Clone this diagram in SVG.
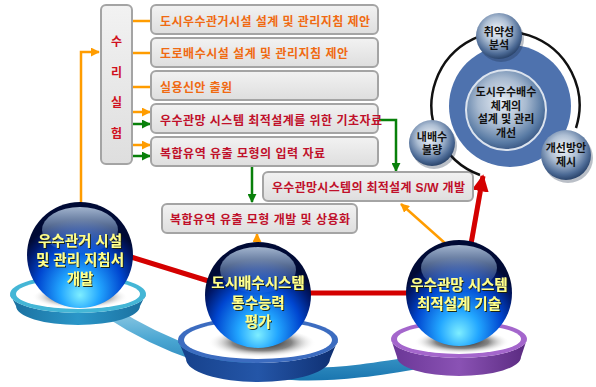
<svg xmlns="http://www.w3.org/2000/svg" width="596" height="387" viewBox="0 0 596 387">
  <defs>
    <style>
      .box { fill: url(#boxFill); stroke: #a4a4a4; stroke-width: 2; }
      .t { font-family: 'Liberation Sans', 'Noto Sans CJK KR', sans-serif; font-size: 12px; font-weight: bold; }
      .or { fill: #f06a12; }
      .rd { fill: #c0102a; }
      .ball-t { font-family: 'Liberation Sans', 'Noto Sans CJK KR', sans-serif; font-size: 14.5px; font-weight: bold; fill: #ffff8a; text-anchor: middle; filter: url(#txtShadow); }
      .orb-t { font-family: 'Liberation Sans', 'Noto Sans CJK KR', sans-serif; font-size: 11px; font-weight: bold; fill: #111; text-anchor: middle; }
      .ln-o { stroke: #ff9c00; stroke-width: 2.5; fill: none; }
      .ln-g { stroke: #08800a; stroke-width: 2.5; fill: none; }
      .ln-r { stroke: #d40000; stroke-width: 5; fill: none; }
    </style>
    <linearGradient id="boxFill" x1="0" y1="0" x2="0" y2="1">
      <stop offset="0" stop-color="#f2f2f2"/>
      <stop offset="1" stop-color="#dedede"/>
    </linearGradient>
    <marker id="arrO" viewBox="0 0 10 10" refX="9" refY="5" markerWidth="9" markerHeight="9" markerUnits="userSpaceOnUse" orient="auto">
      <path d="M0,0 L10,5 L0,10 z" fill="#ff9c00"/>
    </marker>
    <marker id="arrG" viewBox="0 0 10 10" refX="9" refY="5" markerWidth="9" markerHeight="9" markerUnits="userSpaceOnUse" orient="auto">
      <path d="M0,0 L10,5 L0,10 z" fill="#08800a"/>
    </marker>
    <marker id="arrR" viewBox="0 0 10 10" refX="9" refY="5" markerWidth="17" markerHeight="17" markerUnits="userSpaceOnUse" orient="auto">
      <path d="M0,0 L10,5 L0,10 z" fill="#d40000"/>
    </marker>
    <filter id="txtShadow" x="-10%" y="-20%" width="120%" height="150%">
      <feDropShadow dx="1" dy="1" stdDeviation="0.5" flood-color="#1a1a00" flood-opacity="0.9"/>
    </filter>
    <!-- glass ball -->
    <radialGradient id="ball" cx="50%" cy="78%" r="62%" fx="50%" fy="88%">
      <stop offset="0" stop-color="#7eeeff"/>
      <stop offset="0.3" stop-color="#22a6ff"/>
      <stop offset="0.65" stop-color="#0046d0"/>
      <stop offset="0.88" stop-color="#00186a"/>
      <stop offset="1" stop-color="#000a35"/>
    </radialGradient>
    <linearGradient id="hl" x1="0" y1="0" x2="0" y2="1">
      <stop offset="0" stop-color="#d8ecff" stop-opacity="0.75"/>
      <stop offset="1" stop-color="#8ec4ff" stop-opacity="0.05"/>
    </linearGradient>
    <!-- dish parts -->
    <radialGradient id="dishShadow" cx="50%" cy="45%" r="50%">
      <stop offset="0" stop-color="#000" stop-opacity="0.95"/>
      <stop offset="0.55" stop-color="#333" stop-opacity="0.6"/>
      <stop offset="1" stop-color="#fff" stop-opacity="0"/>
    </radialGradient>
    <linearGradient id="side1" x1="0" y1="0" x2="1" y2="0">
      <stop offset="0" stop-color="#1a6f9e"/>
      <stop offset="0.5" stop-color="#2a96c8"/>
      <stop offset="1" stop-color="#1a6f9e"/>
    </linearGradient>
    <linearGradient id="side2" x1="0" y1="0" x2="1" y2="0">
      <stop offset="0" stop-color="#16408a"/>
      <stop offset="0.5" stop-color="#2456a8"/>
      <stop offset="1" stop-color="#0e2e70"/>
    </linearGradient>
    <linearGradient id="side3" x1="0" y1="0" x2="1" y2="0">
      <stop offset="0" stop-color="#6a3696"/>
      <stop offset="0.5" stop-color="#8a52b4"/>
      <stop offset="1" stop-color="#5a2a80"/>
    </linearGradient>
    <linearGradient id="band" x1="0" y1="300" x2="0" y2="380" gradientUnits="userSpaceOnUse">
      <stop offset="0" stop-color="#a6d6ea"/>
      <stop offset="0.5" stop-color="#4aa6d2"/>
      <stop offset="1" stop-color="#1a76b0"/>
    </linearGradient>
    <!-- steel orbs -->
    <radialGradient id="orb" cx="45%" cy="38%" r="62%">
      <stop offset="0" stop-color="#f2f5f9"/>
      <stop offset="0.45" stop-color="#aebfd4"/>
      <stop offset="0.82" stop-color="#4d6b96"/>
      <stop offset="1" stop-color="#2b456c"/>
    </radialGradient>
    <radialGradient id="orbC" cx="45%" cy="40%" r="60%">
      <stop offset="0" stop-color="#e8eef5"/>
      <stop offset="0.5" stop-color="#a8bad0"/>
      <stop offset="0.85" stop-color="#587aa4"/>
      <stop offset="1" stop-color="#3c5a86"/>
    </radialGradient>
  </defs>

  <rect width="596" height="387" fill="#ffffff"/>

  <!-- track joining the three dishes -->
  <path d="M110,312 C160,345 230,372 300,374 C340,375 380,369 425,361" fill="none" stroke="url(#band)" stroke-width="13"/>

  <!-- connectors -->
  <g id="connectors">
    <!-- feed into the experiment column -->
    <polyline class="ln-o" points="81,203 81,52 99,52" marker-end="url(#arrO)"/>
    <line class="ln-o" x1="133" y1="21" x2="151" y2="21"/>
    <line class="ln-o" x1="133" y1="53" x2="151" y2="53"/>
    <line class="ln-o" x1="133" y1="87" x2="151" y2="87"/>
    <line class="ln-o" x1="133" y1="112" x2="150" y2="112" marker-end="url(#arrO)"/>
    <line class="ln-g" x1="133" y1="124" x2="150" y2="124" marker-end="url(#arrG)"/>
    <line class="ln-o" x1="133" y1="145" x2="150" y2="145" marker-end="url(#arrO)"/>
    <line class="ln-g" x1="133" y1="156" x2="150" y2="156" marker-end="url(#arrG)"/>
    <!-- data flows down to the development boxes -->
    <polyline class="ln-g" points="378,120 396,120 396,171" marker-end="url(#arrG)"/>
    <line class="ln-g" x1="252" y1="167" x2="252" y2="202" marker-end="url(#arrG)"/>
    <line class="ln-o" x1="257" y1="243" x2="257" y2="234" marker-end="url(#arrO)"/>
    <line class="ln-o" x1="446" y1="244" x2="401" y2="204" marker-end="url(#arrO)"/>
    <!-- links between the balls -->
    <line class="ln-r" x1="128" y1="256" x2="215" y2="283"/>
    <line class="ln-r" x1="305" y1="293" x2="412" y2="293"/>
    <line class="ln-r" stroke-width="5.5" x1="471" y1="244" x2="483" y2="176" marker-end="url(#arrR)"/>
  </g>

  <!-- experiment column -->
  <g id="col-experiment">
    <rect class="box" x="101" y="5" width="31" height="159" rx="5"/>
    <text class="t" fill="#d01020" text-anchor="middle" x="116.5" y="46">수</text>
    <text class="t" fill="#d01020" text-anchor="middle" x="116.5" y="77">리</text>
    <text class="t" fill="#d01020" text-anchor="middle" x="116.5" y="107">실</text>
    <text class="t" fill="#d01020" text-anchor="middle" x="116.5" y="138">험</text>
  </g>

  <g id="box-guide-pipe">
    <rect class="box" x="151" y="5" width="227" height="29" rx="5"/>
    <text class="t or" x="160" y="25.5" textLength="210" lengthAdjust="spacing">도시우수관거시설 설계 및 관리지침 제안</text>
  </g>
  <g id="box-guide-road">
    <rect class="box" x="151" y="38" width="227" height="29" rx="5"/>
    <text class="t or" x="160" y="58" textLength="188" lengthAdjust="spacing">도로배수시설 설계 및 관리지침 제안</text>
  </g>
  <g id="box-patent">
    <rect class="box" x="151" y="71" width="227" height="29" rx="5"/>
    <text class="t or" x="160" y="91.5" textLength="72" lengthAdjust="spacing">실용신안 출원</text>
  </g>
  <g id="box-basedata">
    <rect class="box" x="151" y="104" width="227" height="29" rx="5"/>
    <text class="t rd" x="160" y="124.5" textLength="222" lengthAdjust="spacing">우수관망 시스템 최적설계를 위한 기초자료</text>
  </g>
  <g id="box-inputdata">
    <rect class="box" x="151" y="137" width="227" height="29" rx="5"/>
    <text class="t rd" x="160" y="157.5" textLength="165" lengthAdjust="spacing">복합유역 유출 모형의 입력 자료</text>
  </g>
  <g id="box-sw">
    <rect class="box" x="263" y="172" width="210" height="29" rx="5"/>
    <text class="t rd" x="272" y="191.5" textLength="193" lengthAdjust="spacing">우수관망시스템의 최적설계 S/W 개발</text>
  </g>
  <g id="box-model">
    <rect class="box" x="162" y="204" width="195" height="29" rx="5"/>
    <text class="t rd" x="170" y="224" textLength="180" lengthAdjust="spacing">복합유역 유출 모형 개발 및 상용화</text>
  </g>

  <!-- ball 1 -->
  <g id="ball-guideline">
    <path d="M10,294 L16,306 A62 19 0 0 0 140,306 L146,294 A68 19 0 0 1 10,294 Z" fill="url(#side1)"/>
    <ellipse cx="78" cy="294" rx="68" ry="19" fill="#44b6d6"/>
    <ellipse cx="78" cy="294" rx="62" ry="15" fill="#ffffff"/>
    <ellipse cx="80" cy="298" rx="48" ry="12" fill="url(#dishShadow)"/>
    <circle cx="80" cy="255" r="53" fill="url(#ball)"/>
    <ellipse cx="80" cy="230" rx="38" ry="23" fill="url(#hl)"/>
    <text class="ball-t" x="80" y="246">우수관거 시설</text>
    <text class="ball-t" x="80" y="265">및 관리 지침서</text>
    <text class="ball-t" x="80" y="284">개발</text>
  </g>

  <!-- ball 2 -->
  <g id="ball-capacity">
    <path d="M178,340 L186,359 A72 23 0 0 0 330,359 L338,340 A80 23 0 0 1 178,340 Z" fill="url(#side2)"/>
    <ellipse cx="258" cy="340" rx="80" ry="23" fill="#3c6cc0"/>
    <ellipse cx="258" cy="340" rx="74" ry="19" fill="#ffffff"/>
    <ellipse cx="262" cy="344" rx="54" ry="15" fill="url(#dishShadow)"/>
    <circle cx="258" cy="295" r="53" fill="url(#ball)"/>
    <ellipse cx="258" cy="270" rx="38" ry="23" fill="url(#hl)"/>
    <text class="ball-t" x="258" y="288">도시배수시스템</text>
    <text class="ball-t" x="258" y="308">통수능력</text>
    <text class="ball-t" x="258" y="327">평가</text>
  </g>

  <!-- ball 3 -->
  <g id="ball-optimal">
    <path d="M391,339 L397,357 A62 19 0 0 0 521,357 L527,339 A68 19 0 0 1 391,339 Z" fill="url(#side3)"/>
    <ellipse cx="459" cy="339" rx="68" ry="19" fill="#a466cc"/>
    <ellipse cx="459" cy="339" rx="62" ry="15" fill="#ffffff"/>
    <ellipse cx="462" cy="343" rx="48" ry="12" fill="url(#dishShadow)"/>
    <circle cx="459" cy="293" r="53" fill="url(#ball)"/>
    <ellipse cx="459" cy="268" rx="38" ry="23" fill="url(#hl)"/>
    <text class="ball-t" x="459" y="290">우수관망 시스템</text>
    <text class="ball-t" x="459" y="309">최적설계 기술</text>
  </g>

  <!-- improvement cycle -->
  <g id="cycle-base">
    <circle cx="510" cy="106" r="61" fill="#4e72ae"/>
    <path d="M480,175 A74 74 0 1 1 576,128" fill="none" stroke="#111" stroke-width="2.5"/>
  </g>
  <g id="orb-center">
    <circle cx="506" cy="110" r="40" fill="url(#orbC)" stroke="#dbe3ee" stroke-width="2"/>
    <text class="orb-t" x="506" y="96">도시우수배수</text>
    <text class="orb-t" x="506" y="109.5">체계의</text>
    <text class="orb-t" x="506" y="123">설계 및 관리</text>
    <text class="orb-t" x="506" y="136.5">개선</text>
  </g>
  <g id="orb-vulnerability">
    <circle cx="501" cy="39" r="23" fill="#1a2a44" opacity="0.3"/>
    <circle cx="499" cy="36" r="23" fill="url(#orb)"/>
    <text class="orb-t" x="499" y="36">취약성</text>
    <text class="orb-t" x="499" y="49">분석</text>
  </g>
  <g id="orb-drainage">
    <circle cx="434" cy="146" r="23" fill="#1a2a44" opacity="0.3"/>
    <circle cx="432" cy="143" r="23" fill="url(#orb)"/>
    <text class="orb-t" x="432" y="141">내배수</text>
    <text class="orb-t" x="432" y="154">불량</text>
  </g>
  <g id="orb-measures">
    <circle cx="568" cy="158" r="25" fill="#1a2a44" opacity="0.3"/>
    <circle cx="566" cy="155" r="25" fill="url(#orb)"/>
    <text class="orb-t" x="566" y="152">개선방안</text>
    <text class="orb-t" x="566" y="166">제시</text>
  </g>
</svg>
